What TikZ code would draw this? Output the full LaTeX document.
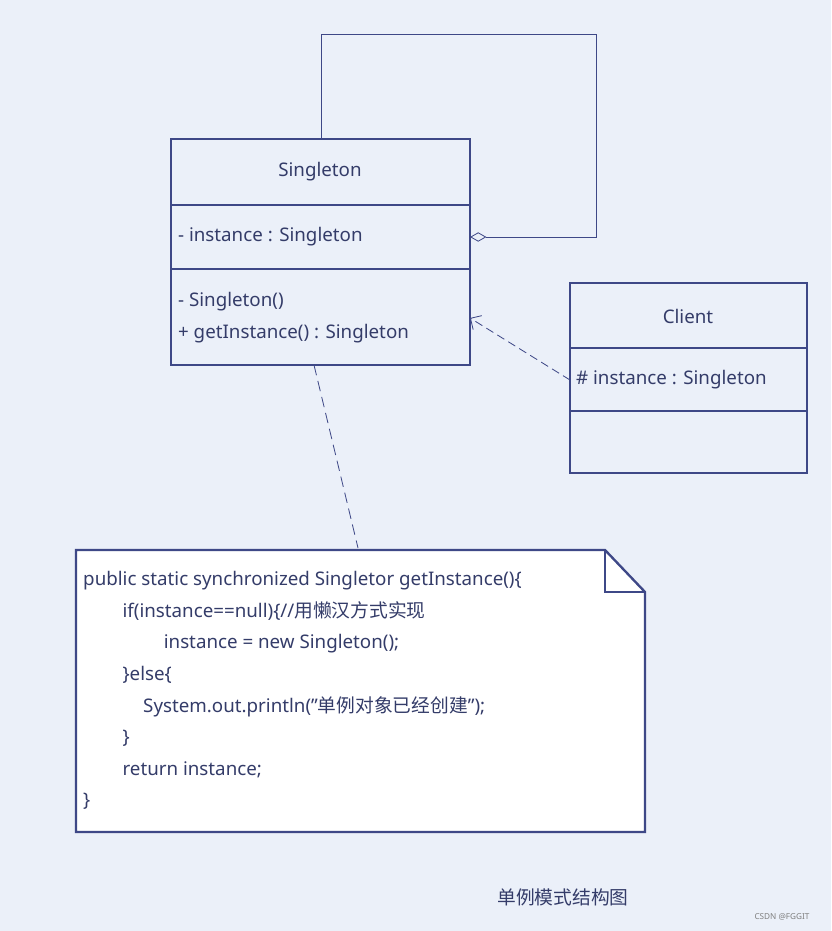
\documentclass[tikz,border=0pt]{standalone}
\usepackage{fontspec}
\setmainfont{Noto Sans}
\newfontfamily\cjk{Noto Sans CJK SC}
\usetikzlibrary{arrows.meta}
\definecolor{bgblue}{RGB}{235,240,249}
\definecolor{umlline}{RGB}{62,72,135}
\definecolor{umltext}{RGB}{52,60,105}
\newcommand{\dq}{\symbol{"22}}
\begin{document}
\begin{tikzpicture}[x=0.03cm,y=-0.03cm,font=\fontsize{16}{19}\selectfont,text=umltext,
  box/.style={draw=umlline,line width=2pt},
  thin line/.style={draw=umlline,line width=0.7pt}]
\fill[bgblue] (0,0) rectangle (831,931);

% Singleton
\draw[box] (171,139) rectangle (470,365);
\draw[box] (171,205) -- (470,205);
\draw[box] (171,269) -- (470,269);
\node (sname) at (320,172) {Singleton};
\node[anchor=west] (sattr) at (174,237) {- instance : Singleton};
\node[anchor=west] (sop1) at (174,302) {- Singleton()};
\node[anchor=west] (sop2) at (174,334) {+ getInstance() : Singleton};
\coordinate (stop) at (321,139);
\coordinate (sright) at (470,237);
\coordinate (sdep) at (470,318);
\coordinate (sbot) at (314,365);

% Client
\draw[box] (570,283) rectangle (807,473);
\draw[box] (570,348) -- (807,348);
\draw[box] (570,411) -- (807,411);
\node (cname) at (688,316) {Client};
\node[anchor=west] (cattr) at (572,380) {\# instance : Singleton};
\coordinate (cleft) at (570,380);

% note
\draw[box,fill=white] (76,550) -- (605,550) -- (645,592) -- (645,832) -- (76,832) -- cycle;
\draw[box] (605,550) -- (605,592) -- (645,592);
\coordinate (ntop) at (358,548);
\node[anchor=north west,align=left,inner sep=0pt] (code) at (83,571) {%
public static synchronized Singletor getInstance()\{\\[8pt]
\hspace{2.1em}if(instance==null)\{//{\cjk 用懒汉方式实现}\\[8pt]
\hspace{4.3em}instance = new Singleton();\\[8pt]
\hspace{2.1em}\}else\{\\[8pt]
\hspace{3.2em}System.out.println(\dq{\cjk 单例对象已经创建}\dq);\\[8pt]
\hspace{2.1em}\}\\[8pt]
\hspace{2.1em}return instance;\\[8pt]
\}};

% connectors
\draw[thin line,-{Diamond[open,length=14pt,width=8pt]}] (stop) -- (321,34) -- (596,34) -- (596,237) -- (sright);
\draw[thin line,dashed,dash pattern=on 7pt off 4pt,-{Straight Barb[length=7pt]}] (cleft) -- (sdep);
\draw[thin line,dash pattern=on 9pt off 5pt] (sbot) -- (ntop);

\node[font=\cjk\fontsize{16}{19}\selectfont] (caption) at (563,897) {单例模式结构图};
\node[text=gray,font=\fontsize{7}{8}\selectfont] (mark) at (782,917) {CSDN @FGGIT};
\end{tikzpicture}
\end{document}
